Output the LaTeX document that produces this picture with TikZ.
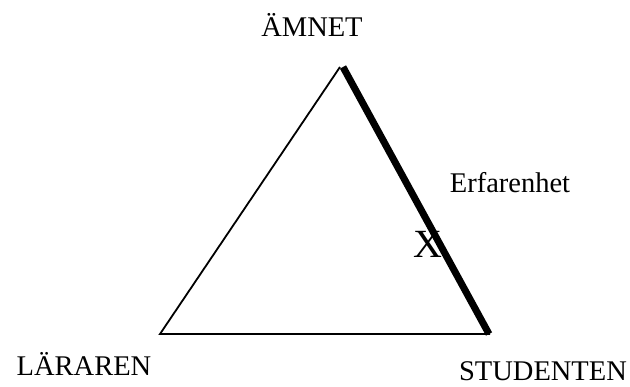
\documentclass[tikz,border=0pt]{standalone}
\usepackage{fontspec}
\setmainfont{Liberation Serif}
\begin{document}
\begin{tikzpicture}[
  x=1pt, y=-1pt,
  label/.style={inner sep=0pt, anchor=base, font=\fontsize{28.5}{33}\selectfont},
  side/.style={line width=1.8pt},
  heavy/.style={line width=7pt}
]
\useasboundingbox (0,0) rectangle (630,387);
\coordinate (top) at (340,67);
\coordinate (left) at (160,334);
\coordinate (right) at (490,334);
\node[label] (amnet) at (312,37) {ÄMNET};
\node[label] (lararen) at (84,376) {LÄRAREN};
\node[label] (studenten) at (543,381) {STUDENTEN};
\node[label] (erf) at (510,193) {Erfarenhet};
\node[label, font=\fontsize{40}{44}\selectfont] (x) at (428,258) {X};
\draw[side] (right) -- (left) -- (top);
\draw[heavy] ([xshift=3pt]top) -- ([xshift=-1pt]right);
\end{tikzpicture}
\end{document}
